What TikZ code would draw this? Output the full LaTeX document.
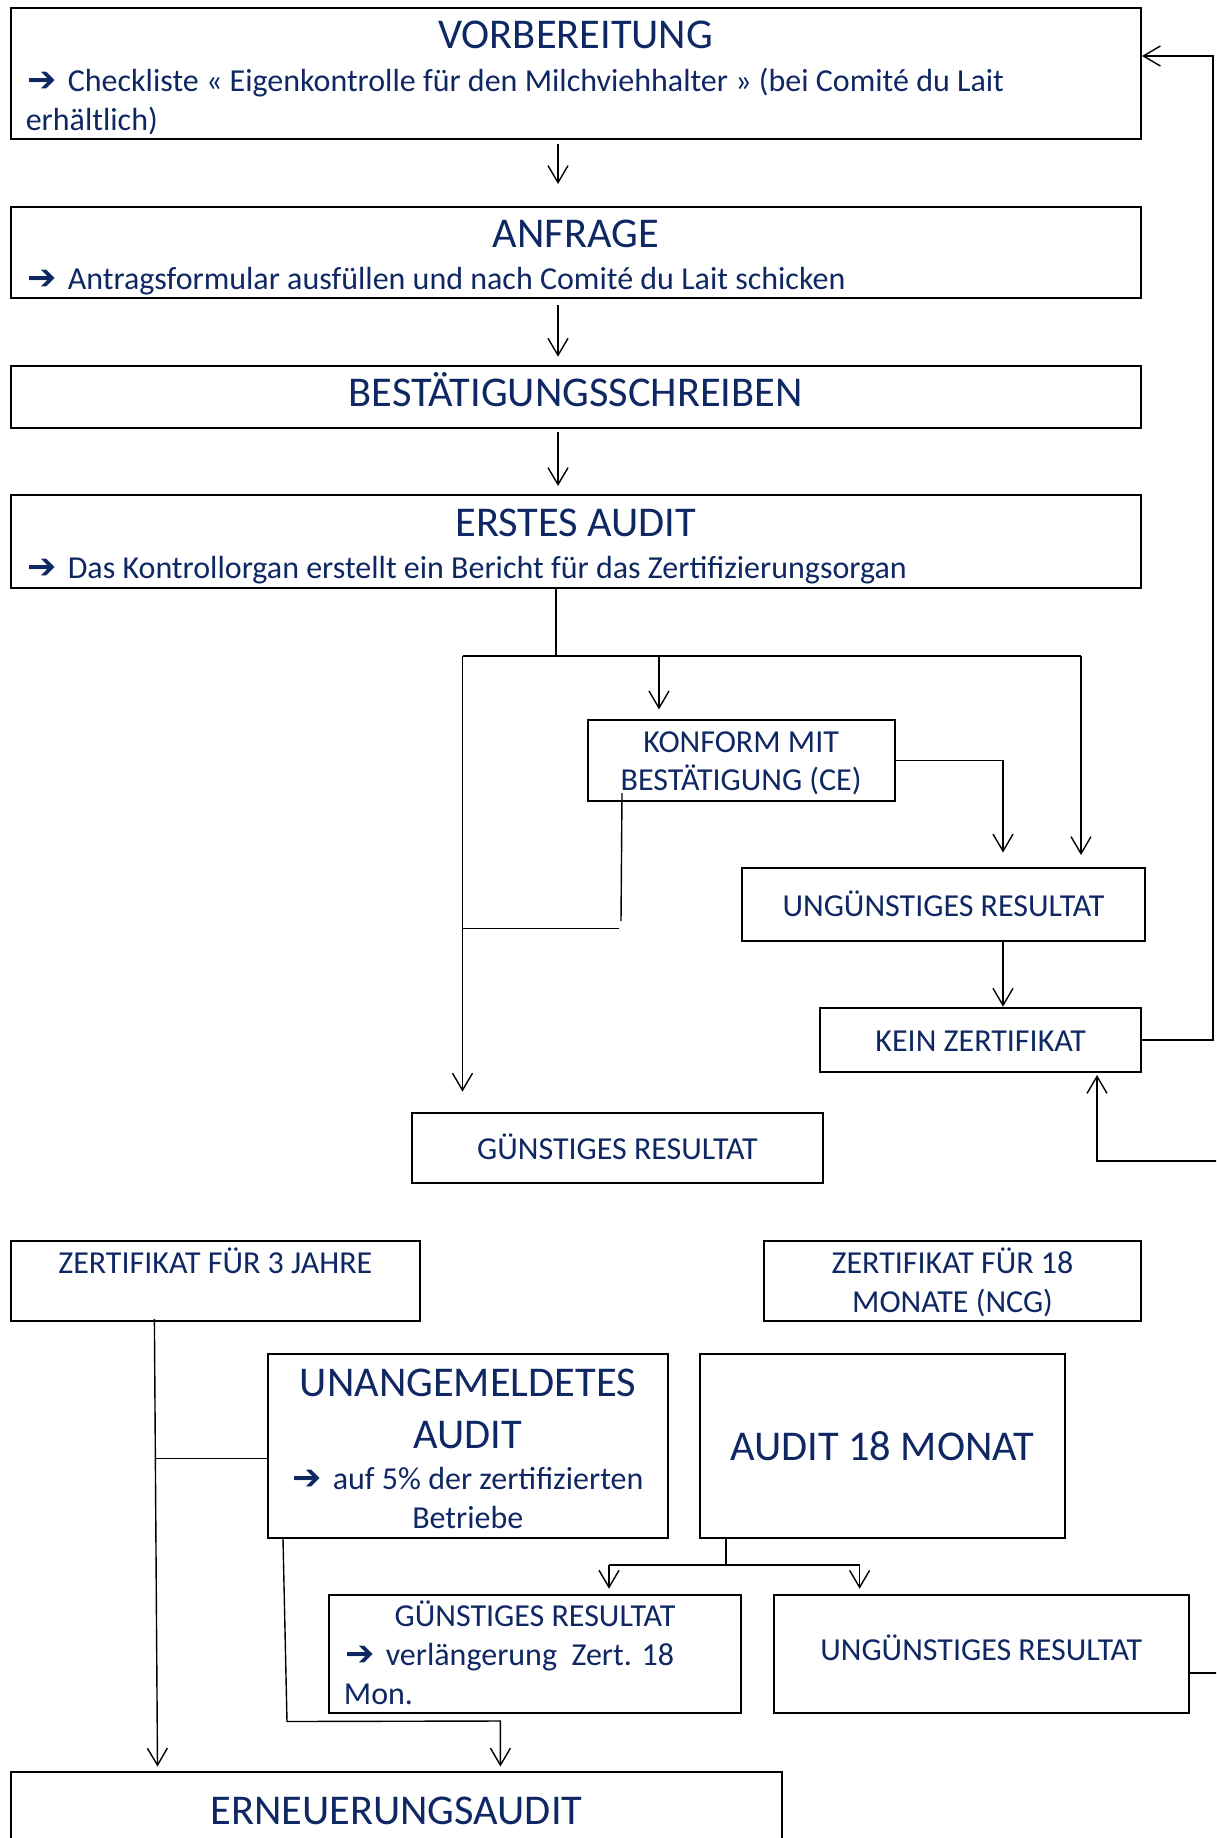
\documentclass[tikz,border=0pt]{standalone}
\usepackage{fontspec}
\setmainfont{Carlito}
\newfontfamily\arrowfontb{DejaVu Sans Bold}
\usetikzlibrary{arrows.meta,calc}
\definecolor{navy}{RGB}{15,40,100}
\newcommand\barrow{\makebox[40.6pt][l]{\arrowfontb\fontsize{35}{39}\selectfont\char"2794}}
\begin{document}
\begin{tikzpicture}[x=1pt,y=-1pt,
  box/.style={draw=black, line width=2pt, inner sep=0pt, rectangle},
  conn/.style={line width=1.4pt},
  arr/.style={conn, -{Straight Barb[length=17pt,width=20pt]}},
  lbl/.style={text=navy, inner sep=0pt, anchor=base, font=\fontsize{32}{39}\selectfont},
  big/.style={lbl, font=\fontsize{42.4}{52}\selectfont},
  lblw/.style={lbl, anchor=base west}]
\useasboundingbox (0,0) rectangle (1216,1838);
\fill[white] (0,0) rectangle (1216,1838);
\clip (0,0) rectangle (1216,1838);

% boxes
\node[box, minimum width=1130.5pt, minimum height=131.5pt] (vorb) at (575.75,73.75) {};
\node[box, minimum width=1130.5pt, minimum height=91.7pt] (anf) at (575.75,252.55) {};
\node[box, minimum width=1130.5pt, minimum height=62.4pt] (best) at (575.75,396.8) {};
\node[box, minimum width=1130.5pt, minimum height=92.7pt] (erst) at (575.75,541.35) {};
\node[box, minimum width=307.3pt, minimum height=80.5pt] (konf) at (741.15,760.25) {};
\node[box, minimum width=402.6pt, minimum height=73.3pt] (ung) at (943.5,904.35) {};
\node[box, minimum width=320.8pt, minimum height=64.3pt] (kein) at (980.7,1039.85) {};
\node[box, minimum width=411.9pt, minimum height=69.7pt] (guen) at (617.45,1147.65) {};
\node[box, minimum width=408.8pt, minimum height=80.1pt] (zdrei) at (215.3,1280.75) {};
\node[box, minimum width=377pt, minimum height=80.1pt] (zacht) at (952.5,1280.75) {};
\node[box, minimum width=400.4pt, minimum height=183.9pt] (unang) at (467.8,1445.75) {};
\node[box, minimum width=365.2pt, minimum height=183.9pt] (aacht) at (882.4,1445.75) {};
\node[box, minimum width=412pt, minimum height=118pt] (guenz) at (535,1653.6) {};
\node[box, minimum width=415.5pt, minimum height=118pt] (ungz) at (981.25,1653.6) {};
\node[box, minimum width=771.1pt, minimum height=128.4pt] (erneu) at (396.45,1835.8) {};

% texts
\node[big] (t1) at (575.75,48.2) {VORBEREITUNG};
\node[lblw] (t1a) at (27,92) {\barrow Checkliste « Eigenkontrolle für den Milchviehhalter » (bei Comité du Lait};
\node[lblw] (t1b) at (25.6,130.5) {erhältlich)};
\node[big] (t2) at (575.75,247) {ANFRAGE};
\node[lblw] (t2a) at (27,289.7) {\barrow Antragsformular ausfüllen und nach Comité du Lait schicken};
\node[big] (t3) at (575.75,406) {BESTÄTIGUNGSSCHREIBEN};
\node[big] (t4) at (575.75,536) {ERSTES AUDIT};
\node[lblw] (t4a) at (27,578) {\barrow Das Kontrollorgan erstellt ein Bericht für das Zertifizierungsorgan};
\node[lbl] (t5a) at (741.15,752) {KONFORM MIT};
\node[lbl] (t5b) at (741.15,790) {BESTÄTIGUNG (CE)};
\node[lbl] (t6) at (943.5,916) {UNGÜNSTIGES RESULTAT};
\node[lbl] (t7) at (980.7,1051) {KEIN ZERTIFIKAT};
\node[lbl] (t8) at (617.45,1159) {GÜNSTIGES RESULTAT};
\node[lbl] (t9) at (215.3,1273) {ZERTIFIKAT FÜR 3 JAHRE};
\node[lbl] (t10a) at (952.5,1273) {ZERTIFIKAT FÜR 18};
\node[lbl] (t10b) at (952.5,1312) {MONATE (NCG)};
\node[big] (t11a) at (467.8,1396) {UNANGEMELDETES};
\node[big] (t11b) at (467.8,1448) {AUDIT};
\node[lbl] (t11c) at (467.8,1489.7) {\barrow auf 5\% der zertifizierten};
\node[lbl] (t11d) at (467.8,1528.7) {Betriebe};
\node[big] (t12) at (882.4,1460) {AUDIT 18 MONAT};
\node[lbl] (t13a) at (535,1626) {GÜNSTIGES RESULTAT};
\node[lblw] (t13b) at (345,1665) {\barrow verlängerung\ \ Zert. 18};
\node[lblw] (t13c) at (343.7,1704) {Mon.};
\node[lbl] (t14) at (981.25,1660) {UNGÜNSTIGES RESULTAT};
\node[big] (t15) at (396.45,1824) {ERNEUERUNGSAUDIT};

% connectors, top part
\draw[arr] ($(vorb.south)+(-17.75,3.5)$) -- ($(anf.north)+(-17.75,-21.7)$);
\draw[arr] ($(anf.south)+(-17.75,5.2)$) -- ($(best.north)+(-17.75,-7.9)$);
\draw[arr] ($(best.south)+(-17.75,2.8)$) -- ($(erst.north)+(-17.75,-8)$);
\coordinate (jL) at (462.5,656);
\coordinate (jR) at (1081,656);
\coordinate (jM) at (556,657);
\coordinate (jK) at (659,656);
\draw[conn] (erst.south -| jM) -- (jM);
\draw[conn] (jL) -- (jR);
\draw[arr] (jK) -- ($(konf.north -| jK)+(0,-9.6)$);
\draw[arr] (jR) -- ($(ung.north -| jR)+(0,-11.7)$);
\draw[arr] (jL) -- ($(guen.north -| jL)+(0,-20.2)$);
\coordinate (kx) at (1003,760.25);
\draw[arr] (konf.east) -- (kx) -- ($(ung.north -| kx)+(0,-14.2)$);
\draw[arr] (ung.south -| kx) -- (kein.north -| kx);
\coordinate (kb1) at (621,921);
\coordinate (kb2) at (619,928.5);
\draw[conn] ($(konf.south west)+(35.5,-8.5)$) -- (kb1);
\draw[conn] (kb2) -- (kb2 -| jL);
\coordinate (rt) at (1213,56);
\draw[arr] (kein.east) -- (kein.east -| rt) -- (rt) -- (vorb.east |- rt);
\coordinate (br) at (1225,1161);
\coordinate (bx) at (1097,1161);
\draw[arr] (br) -- (bx) -- ($(kein.south -| bx)+(0,2)$);

% connectors, bottom part
\coordinate (lv) at (155.5,1458.3);
\draw[arr] ($(zdrei.south)+(-60.9,-2.8)$) -- ($(erneu.north)+(-238.95,-4.1)$);
\draw[conn] (lv) -- (unang.west |- lv);
\coordinate (am) at (726,1565);
\coordinate (aL) at (609,1565);
\coordinate (aR) at (859.6,1565);
\draw[conn] (aacht.south -| am) -- (am);
\draw[conn] (aL) -- (aR);
\draw[arr] (aL) -- ($(guenz.north -| aL)+(0,-4.9)$);
\draw[arr] (aR) -- ($(ungz.north -| aR)+(0,-4.9)$);
\coordinate (ue) at (1225,1673);
\draw[conn] (ungz.east |- ue) -- (ue);
\coordinate (ub1) at (287,1721.5);
\coordinate (ub2) at (500.4,1721);
\draw[arr] ($(unang.south west)+(16.4,0)$) -- (ub1) -- (ub2) -- ($(erneu.north -| ub2)+(0,-4.1)$);
\end{tikzpicture}
\end{document}
